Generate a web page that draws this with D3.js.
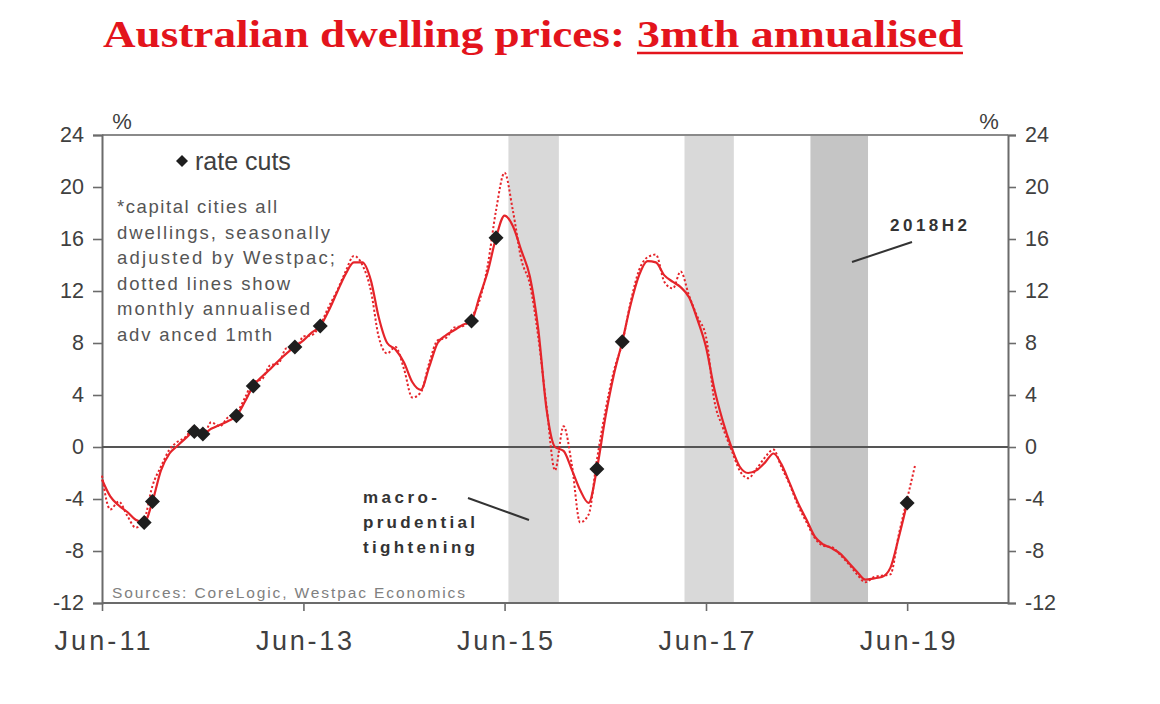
<!DOCTYPE html>
<html><head><meta charset="utf-8">
<script src="https://cdn.jsdelivr.net/npm/d3@7/dist/d3.min.js"></script>
<style>
html,body{margin:0;padding:0;background:#fff;}
svg{display:block;}
</style></head>
<body>
<svg id="chart" width="1160" height="704"></svg>
<script>
// ---------- DATA ----------
const startMonth = "2011-06";   // first monthly observation
// 3mth annualised (solid), monthly from Jun-11
const threeMonth = [-2.5,-3.8,-4.5,-5.0,-5.6,-5.8,-4.2,-1.8,-0.5,0.1,
  0.7,1.2,1.0,1.4,1.7,2.0,2.4,3.5,4.7,5.4,
  6.0,6.6,7.2,7.7,8.2,8.8,9.3,10.5,11.9,13.3,
  14.2,14.2,12.8,10.0,8.0,7.5,6.5,5.0,4.4,6.2,
  8.0,8.6,9.0,9.4,9.7,11.5,13.5,16.1,17.8,17.0,
  15.1,13.1,9.1,2.8,0.0,-0.3,-1.8,-3.3,-4.3,-1.7,
  2.3,5.5,8.1,11.0,13.2,14.3,14.2,13.2,12.7,12.3,
  11.5,9.8,7.7,4.5,2.0,0.0,-1.5,-2.0,-1.8,-1.2,
  -0.5,-1.3,-2.8,-4.3,-5.6,-6.9,-7.5,-7.8,-8.2,-8.9,
  -9.6,-10.2,-10.1,-10.0,-9.3,-7.0,-4.3];
// monthly annualised, advanced 1mth (dotted), monthly from Jun-11
const monthlyAdv = [-2.2,-4.8,-4.2,-5.3,-6.2,-5.6,-3.0,-1.5,-0.2,0.4,
  0.8,1.6,0.8,1.9,1.6,2.3,2.6,3.8,5.0,5.2,
  6.3,6.4,7.6,7.5,8.5,8.6,9.4,10.8,12.0,13.5,
  14.7,14.0,12.0,8.5,7.2,7.7,6.0,3.8,4.2,6.5,
  8.2,8.4,9.2,9.3,10.0,11.2,14.0,18.2,21.1,18.2,
  14.4,12.5,8.5,3.0,-1.8,1.6,-1.5,-5.8,-5.2,-1.0,
  2.8,5.8,8.0,11.2,13.6,14.6,14.8,12.7,12.2,13.5,
  11.6,10.0,8.5,3.6,1.5,-0.2,-1.8,-2.4,-1.7,-0.8,
  -0.2,-1.5,-2.9,-4.5,-5.8,-7.0,-7.6,-7.7,-8.3,-9.0,
  -9.8,-10.4,-10.0,-9.9,-9.8,-6.8,-4.0,-1.3];
// RBA rate cuts (months)
const rateCuts = ["2011-11","2011-12","2012-05","2012-06","2012-10","2012-12",
  "2013-05","2013-08","2015-02","2015-05","2016-05","2016-08","2019-06"];
// shaded periods
const bandStarts = ["2015-06-15","2017-03-15","2018-06-15"];
const bandEnds   = ["2015-12-15","2017-09-10","2019-01-10"];
const bandShade  = ["light","light","dark"];
// ticks
const yTicks = [24,20,16,12,8,4,0,-4,-8,-12];
const xTickLabels = ["Jun-11","Jun-13","Jun-15","Jun-17","Jun-19"];
const xTickDates = ["2011-06-01","2013-06-01","2015-06-01","2017-06-01","2019-06-01"];
const noteLines = ["*capital cities all","dwellings,  seasonally","adjusted by Westpac;",
  "dotted lines show","monthly annualised","adv anced 1mth"];
const macroLines = ["macro-","prudential","tightening"];

// ---------- LAYOUT ----------
const svg = d3.select("#chart");
const L = 102, R = 1008, T = 135, B = 603;
const parse = d3.timeParse("%Y-%m-%d");
const pm = d3.timeParse("%Y-%m");
const x = d3.scaleTime().domain([parse("2011-06-01"), parse("2020-06-01")]).range([L, R]);
const y = d3.scaleLinear().domain([-12, 24]).range([B, T]);
const s0 = pm(startMonth);
const monthDate = i => d3.timeMonth.offset(s0, i);
const red = "#e5242a";
const axisCol = "#6b6b6b";
const textCol = "#404040";
const sans = "Liberation Sans, Arial, sans-serif";

// bands
const bands = bandStarts.map((s,i)=>({s:parse(s), e:parse(bandEnds[i]), k:bandShade[i]}));
svg.append("g").selectAll("rect").data(bands).join("rect")
  .attr("x", d=>x(d.s)).attr("width", d=>x(d.e)-x(d.s))
  .attr("y", T).attr("height", B-T)
  .attr("fill", d=>d.k==="dark" ? "#c5c5c5" : "#d9d9d9");

// frame
svg.append("line").attr("x1", L).attr("x2", R).attr("y1", T).attr("y2", T)
  .attr("stroke","#8a8a8a").attr("stroke-width", 2);
svg.append("line").attr("x1", L).attr("x2", R).attr("y1", B).attr("y2", B)
  .attr("stroke", axisCol).attr("stroke-width", 2);

const fmt = d => String(d);
const yL = d3.axisLeft(y).tickValues(yTicks).tickSize(9).tickPadding(9).tickFormat(fmt);
const yR = d3.axisRight(y).tickValues(yTicks).tickSize(8).tickPadding(9).tickFormat(fmt);
const xA = d3.axisBottom(x).tickValues(xTickDates.map(parse)).tickSize(8).tickPadding(20)
  .tickFormat((d,i)=>xTickLabels[i]);

function styleAxis(g){
  g.select(".domain").attr("stroke", axisCol).attr("stroke-width", 2);
  g.selectAll(".tick line").attr("stroke", axisCol).attr("stroke-width", 1.6);
  g.selectAll(".tick text").attr("fill", textCol).attr("font-family", sans);
}
const gL = svg.append("g").attr("transform",`translate(${L},0)`).call(yL);
styleAxis(gL); gL.selectAll(".tick text").attr("font-size", 21.5);
const gR = svg.append("g").attr("transform",`translate(${R},0)`).call(yR);
styleAxis(gR); gR.selectAll(".tick text").attr("font-size", 21.5);
const gX = svg.append("g").attr("transform",`translate(0,${B})`).call(xA);
styleAxis(gX); gX.select(".domain").remove();
gX.selectAll(".tick text").attr("font-size", 27)
  .attr("textLength", 96).attr("lengthAdjust","spacing");

// zero line
svg.append("line").attr("x1", L).attr("x2", R).attr("y1", y(0)).attr("y2", y(0))
  .attr("stroke", "#555").attr("stroke-width", 2);

// % labels
svg.append("text").attr("x", 122).attr("y", 129).attr("text-anchor","middle")
  .attr("font-family", sans).attr("font-size", 22).attr("fill", textCol).text("%");
svg.append("text").attr("x", 989).attr("y", 129).attr("text-anchor","middle")
  .attr("font-family", sans).attr("font-size", 22).attr("fill", textCol).text("%");

// lines
const line = d3.line().x((d,i)=>x(monthDate(i))).y(d=>y(d)).curve(d3.curveMonotoneX);
svg.append("path").datum(monthlyAdv).attr("d", line).attr("fill","none")
  .attr("stroke", red).attr("stroke-width", 2).attr("stroke-dasharray","2.2,2.2");
svg.append("path").datum(threeMonth).attr("d", line).attr("fill","none")
  .attr("stroke", red).attr("stroke-width", 2.2);

// rate cut diamonds
const diamond = "M0,-7.5L7.5,0L0,7.5L-7.5,0Z";
const cutData = rateCuts.map(m=>{
  const d = pm(m);
  const i = d3.timeMonth.count(s0, d);
  return {d, v: threeMonth[i]};
});
svg.append("g").selectAll("path").data(cutData).join("path")
  .attr("d", diamond).attr("transform", d=>`translate(${x(d.d)},${y(d.v)})`)
  .attr("fill", "#1e1e1e");

// legend
svg.append("path").attr("d", "M0,-6L6,0L0,6L-6,0Z").attr("transform","translate(182,161)").attr("fill","#1e1e1e");
svg.append("text").attr("x", 195).attr("y", 170).attr("font-family", sans)
  .attr("font-size", 25).attr("fill", textCol).text("rate cuts");

// note
const noteW = [160,213,218,173,193,155];
svg.append("g").selectAll("text").data(noteLines).join("text")
  .attr("x", 117).attr("y", (d,i)=>213 + i*25.6)
  .attr("font-family", sans).attr("font-size", 18.5)
  .attr("fill", "#555").attr("textLength", (d,i)=>noteW[i]).attr("lengthAdjust","spacing")
  .text(d=>d);

// sources
svg.append("text").attr("x", 112).attr("y", 598)
  .attr("font-family", sans).attr("font-size", 15.5)
  .attr("fill", "#808080").attr("textLength", 353).attr("lengthAdjust","spacing")
  .text("Sources: CoreLogic, Westpac Economics");

// macro-prudential annotation
const macroW = [74,112,112];
svg.append("g").selectAll("text").data(macroLines).join("text")
  .attr("x", 363).attr("y", (d,i)=>503 + i*25)
  .attr("font-family", sans).attr("font-size", 17).attr("font-weight","bold")
  .attr("fill", "#333").attr("textLength", (d,i)=>macroW[i]).attr("lengthAdjust","spacing")
  .text(d=>d);
svg.append("line").attr("x1", 468).attr("y1", 498).attr("x2", 529).attr("y2", 520)
  .attr("stroke","#333").attr("stroke-width", 2);

// 2018H2 annotation
svg.append("text").attr("x", 890).attr("y", 231)
  .attr("font-family", sans).attr("font-size", 17).attr("font-weight","bold")
  .attr("fill", "#333").attr("textLength", 77).attr("lengthAdjust","spacing").text("2018H2");
svg.append("line").attr("x1", 912).attr("y1", 242).attr("x2", 852).attr("y2", 262)
  .attr("stroke","#333").attr("stroke-width", 2);

// title
const titleCol = "#e3141c";
svg.append("text").attr("x", 103).attr("y", 47)
  .attr("font-family","Liberation Serif, Times New Roman, serif").attr("font-weight","bold")
  .attr("font-size", 38).attr("fill", titleCol)
  .attr("textLength", 522).attr("lengthAdjust","spacingAndGlyphs")
  .text("Australian dwelling prices:");
svg.append("text").attr("x", 637).attr("y", 47)
  .attr("font-family","Liberation Serif, Times New Roman, serif").attr("font-weight","bold")
  .attr("font-size", 38).attr("fill", titleCol)
  .attr("textLength", 326).attr("lengthAdjust","spacingAndGlyphs")
  .text("3mth annualised");
svg.append("line").attr("x1", 637).attr("x2", 963).attr("y1", 53).attr("y2", 53)
  .attr("stroke", titleCol).attr("stroke-width", 2.5);
</script>
</body></html>
